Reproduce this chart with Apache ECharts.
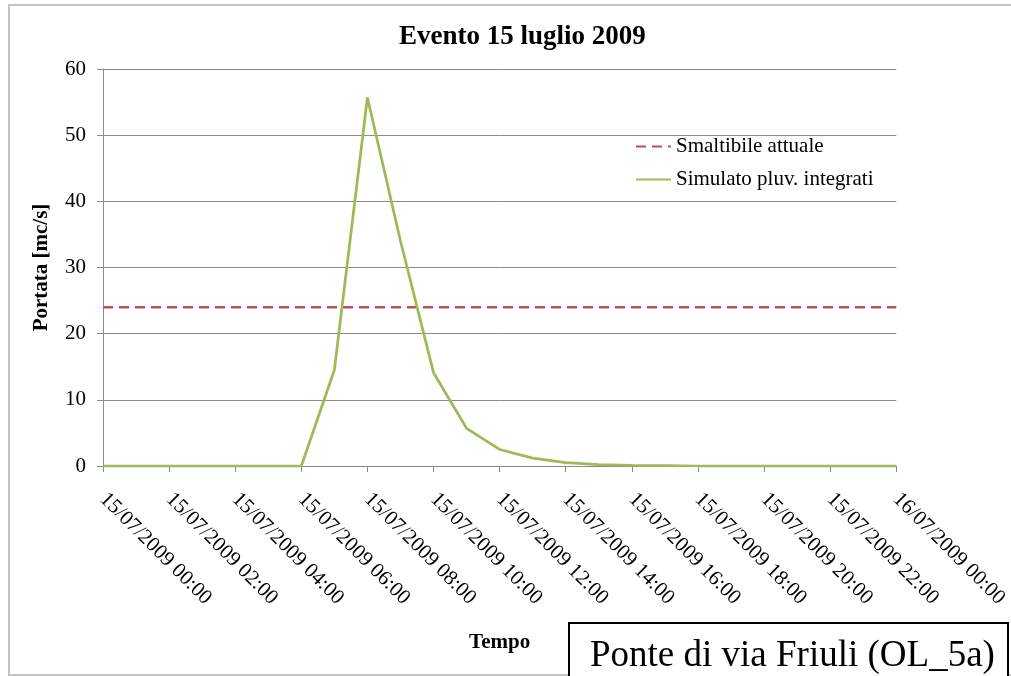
<!DOCTYPE html>
<html>
<head>
<meta charset="utf-8">
<script src="https://cdn.jsdelivr.net/npm/echarts@6/dist/echarts.min.js"></script>
<style>
  html, body { margin: 0; padding: 0; background: #ffffff; }
  #chart { width: 1011px; height: 676px; }
</style>
</head>
<body>
<div id="chart"></div>
<script>
// Hourly time stamps for the event (15/07/2009 00:00 – 16/07/2009 00:00)
const categories = [
  '15/07/2009 00:00', '15/07/2009 01:00', '15/07/2009 02:00', '15/07/2009 03:00',
  '15/07/2009 04:00', '15/07/2009 05:00', '15/07/2009 06:00', '15/07/2009 07:00',
  '15/07/2009 08:00', '15/07/2009 09:00', '15/07/2009 10:00', '15/07/2009 11:00',
  '15/07/2009 12:00', '15/07/2009 13:00', '15/07/2009 14:00', '15/07/2009 15:00',
  '15/07/2009 16:00', '15/07/2009 17:00', '15/07/2009 18:00', '15/07/2009 19:00',
  '15/07/2009 20:00', '15/07/2009 21:00', '15/07/2009 22:00', '15/07/2009 23:00',
  '16/07/2009 00:00'
];

// Discharge capacity of the current section [mc/s]
const smaltibileAttuale = [
  24, 24, 24, 24, 24, 24, 24, 24, 24, 24, 24, 24, 24,
  24, 24, 24, 24, 24, 24, 24, 24, 24, 24, 24, 24
];

// Simulated discharge from integrated rain gauges [mc/s]
const simulatoPluvIntegrati = [
  0, 0, 0, 0, 0, 0, 0, 14.5, 55.7, 34, 14.1, 5.7, 2.5,
  1.2, 0.5, 0.2, 0.1, 0.05, 0, 0, 0, 0, 0, 0, 0
];

const yTicks = { min: 0, max: 60, interval: 10 };

const serif = '"Liberation Serif", "Times New Roman", serif';
const gridGray = '#8a8a8a';

const chart = echarts.init(document.getElementById('chart'), null, { renderer: 'canvas' });

chart.setOption({
  backgroundColor: '#ffffff',
  animation: false,
  title: {
    text: 'Evento 15 luglio 2009',
    left: 394,
    top: 19,
    textStyle: { fontFamily: serif, fontSize: 27, fontWeight: 'bold', color: '#000000' }
  },
  legend: {
    orient: 'vertical',
    left: 630,
    top: 131,
    itemWidth: 35,
    itemHeight: 14,
    itemGap: 12,
    itemStyle: { opacity: 0 },
    textStyle: { fontFamily: serif, fontSize: 21, color: '#000000' },
    data: ['Smaltibile attuale', 'Simulato pluv. integrati']
  },
  grid: { left: 103, right: 114, top: 69, bottom: 210, containLabel: false },
  xAxis: {
    type: 'category',
    data: categories,
    boundaryGap: false,
    name: 'Tempo',
    nameLocation: 'middle',
    nameGap: 166,
    nameTextStyle: { fontFamily: serif, fontSize: 21, fontWeight: 'bold', color: '#000000' },
    axisLine: { show: true, lineStyle: { color: gridGray, width: 1 } },
    axisTick: { show: true, interval: 1, length: 6, inside: false, lineStyle: { color: gridGray } },
    axisLabel: {
      interval: 1,
      rotate: -45,
      margin: 30,
      fontFamily: serif,
      fontSize: 21,
      color: '#000000'
    },
    splitLine: { show: false }
  },
  yAxis: {
    type: 'value',
    min: yTicks.min,
    max: yTicks.max,
    interval: yTicks.interval,
    name: 'Portata [mc/s]',
    nameLocation: 'middle',
    nameRotate: 90,
    nameGap: 51,
    nameTextStyle: { fontFamily: serif, fontSize: 21, fontWeight: 'bold', color: '#000000' },
    axisLine: { show: true, lineStyle: { color: gridGray, width: 1 } },
    axisTick: { show: true, length: 6, lineStyle: { color: gridGray } },
    axisLabel: { margin: 17, fontFamily: serif, fontSize: 21, color: '#000000' },
    splitLine: { show: true, lineStyle: { color: gridGray, width: 1 } }
  },
  series: [
    {
      name: 'Smaltibile attuale',
      type: 'line',
      data: smaltibileAttuale,
      symbol: 'none',
      z: 3,
      color: '#C0504D',
      lineStyle: { color: '#C0504D', width: 2.5, type: [10, 6] }
    },
    {
      name: 'Simulato pluv. integrati',
      type: 'line',
      data: simulatoPluvIntegrati,
      symbol: 'none',
      z: 4,
      color: '#9BBB59',
      lineStyle: { color: '#9BBB59', width: 2.75 }
    }
  ],
  graphic: [
    {
      type: 'rect',
      z: -10,
      silent: true,
      shape: { x: 9, y: 5, width: 1100, height: 670 },
      style: { fill: 'none', stroke: '#c4c4c4', lineWidth: 2 }
    },
    {
      type: 'group',
      z: 100,
      children: [
        {
          type: 'rect',
          shape: { x: 569, y: 623, width: 439, height: 80 },
          style: { fill: '#ffffff', stroke: '#000000', lineWidth: 2 }
        },
        {
          type: 'text',
          x: 590,
          y: 638,
          style: {
            text: 'Ponte di via Friuli (OL_5a)',
            fontFamily: serif,
            fontSize: 37,
            fill: '#000000'
          }
        }
      ]
    }
  ]
});
</script>
</body>
</html>
